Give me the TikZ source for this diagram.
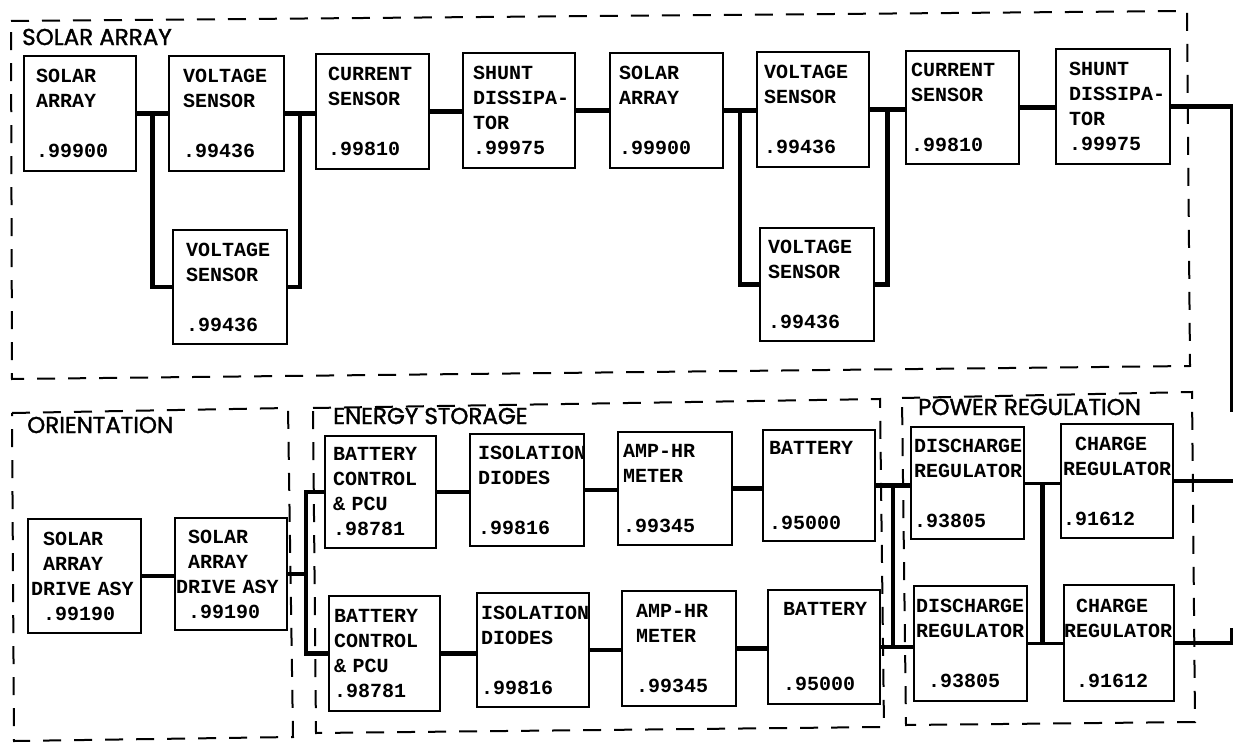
\documentclass[tikz,border=0pt]{standalone}
\usepackage{fontspec}
\newfontfamily\boxfont{Liberation Mono}
\newfontfamily\grpfont{Poppins}[FakeBold=1.5]
\usetikzlibrary{calc}
\begin{document}
\begin{tikzpicture}[x=1pt,y=-1pt,
  blk/.style n args={4}{draw, line width=2pt, anchor=north west,
    minimum width=#1pt, minimum height=#2pt, text width=#3pt,
    inner xsep=#4pt, inner ysep=0pt, align=left,
    font=\boxfont\bfseries\fontsize{20}{25}\selectfont},
  conn/.style={line width=4.5pt},
  thinconn/.style={line width=3pt},
  frame/.style={dash pattern=on 18pt off 13pt, line width=2pt},
  grp/.style={font=\grpfont\fontsize{23}{26}\selectfont, inner sep=0pt, anchor=west}]
\path[use as bounding box, fill=white] (0,0) rectangle (1233,743);

% frames
\draw[frame] (11,21) -- (1187,11) -- (1190,366) -- (12,379) -- cycle;
\draw[frame] (12,413) -- (288,408) -- (293,737) -- (14,741) -- cycle;
\draw[frame] (313,408) -- (880,399) -- (884,727) -- (316,733) -- cycle;
\draw[frame] (902,398) -- (1192,392) -- (1195,722) -- (906,725) -- cycle;

% labels
\node[grp] (lsa) at (22,37) {SOLAR ARRAY};
\node[grp] (lor) at (27,425) {ORIENTATION};
\node[grp] (les) at (333,416) {ENERGY STORAGE};
\node[grp] (lpr) at (918,407) {POWER REGULATION};

% top row
\node[blk={112}{115}{88}{12}] (sa1) at (23,55) {SOLAR\\ARRAY\\\mbox{}\\.99900};
\node[blk={115}{115}{87}{14}] (vs1) at (168,55) {VOLTAGE\\SENSOR\\\mbox{}\\.99436};
\node[blk={114}{114}{88}{13}] (vs2) at (172,229) {VOLTAGE\\SENSOR\\\mbox{}\\.99436};
\node[blk={113}{115}{89}{12}] (cs1) at (315,53) {CURRENT\\SENSOR\\\mbox{}\\.99810};
\node[blk={112}{115}{92}{10}] (sh1) at (462,52) {SHUNT\\\mbox{DISSIPA-}\\TOR\\.99975};
\node[blk={113}{115}{95}{9}] (sa2) at (609,52) {SOLAR\\ARRAY\\\mbox{}\\.99900};
\node[blk={112}{115}{98}{7}] (vs3) at (756,51) {VOLTAGE\\SENSOR\\\mbox{}\\.99436};
\node[blk={114}{113}{98}{8}] (vs4) at (759,227) {VOLTAGE\\SENSOR\\\mbox{}\\.99436};
\node[blk={113}{113}{103}{5}] (cs2) at (905,50) {CURRENT\\SENSOR\\\mbox{}\\.99810};
\node[blk={114}{115}{88}{13}] (sh2) at (1055,48) {SHUNT\\\mbox{DISSIPA-}\\TOR\\.99975};

% bottom
\node[blk={113}{114}{107}{3}] (sada1) at (27,518) {\hphantom{D}SOLAR\\\hphantom{D}ARRAY\\DRIVE~ASY\\\hphantom{D}.99190};
\node[blk={112}{112}{110}{1}] (sada2) at (174,517) {\hphantom{D}SOLAR\\\hphantom{D}ARRAY\\DRIVE~ASY\\\hphantom{D}.99190};
\node[blk={111}{112}{95}{8}] (bc1) at (324,435) {BATTERY\\CONTROL\\\&~PCU\\.98781};
\node[blk={111}{115}{101}{5}] (bc2) at (328,595) {BATTERY\\CONTROL\\\&~PCU\\.98781};
\node[blk={114}{112}{98}{8}] (id1) at (469,433) {ISOLATION\\DIODES\\\mbox{}\\.99816};
\node[blk={112}{114}{104}{4}] (id2) at (476,592) {ISOLATION\\DIODES\\\mbox{}\\.99816};
\node[blk={114}{113}{104}{5}] (am1) at (617,431) {\mbox{AMP-HR}\\METER\\\mbox{}\\.99345};
\node[blk={114}{115}{86}{14}] (am2) at (621,590) {\mbox{AMP-HR}\\METER\\\mbox{}\\.99345};
\node[blk={112}{111}{100}{6}] (bt1) at (762,429) {BATTERY\\\mbox{}\\\mbox{}\\.95000};
\node[blk={112}{114}{82}{15}] (bt2) at (767,589) {BATTERY\\\mbox{}\\\mbox{}\\.95000};
\node[blk={113}{112}{107}{3}] (dr1) at (910,426) {DISCHARGE\\REGULATOR\\\mbox{}\\.93805};
\node[blk={113}{115}{109}{2}] (dr2) at (913,585) {DISCHARGE\\REGULATOR\\\mbox{}\\\hphantom{D}.93805};
\node[blk={112}{114}{108}{2}] (cr1) at (1060,423) {\hphantom{R}CHARGE\\REGULATOR\\\mbox{}\\.91612};
\node[blk={110}{116}{110}{0}] (cr2) at (1063,584) {\hphantom{R}CHARGE\\REGULATOR\\\mbox{}\\\hphantom{R}.91612};

% top connectors
\coordinate (j1) at ($(sa1.east)!0.5!(vs1.west)$);
\draw[conn] (sa1.east) -- (sa1.east -| vs1.west);
\draw[conn] (j1) |- (vs2.west);
\coordinate (j2) at ($(vs1.east)!0.5!(cs1.west)$);
\draw[conn] (vs1.east) -- (vs1.east -| cs1.west);
\draw[conn] (j2) |- (vs2.east);
\draw[conn] (cs1.east) -- (cs1.east -| sh1.west);
\draw[conn] (sh1.east) -- (sh1.east -| sa2.west);
\coordinate (j3) at ($(sa2.east)!0.5!(vs3.west)$);
\draw[conn] (sa2.east) -- (sa2.east -| vs3.west);
\draw[conn] (j3) |- (vs4.west);
\coordinate (j4) at ($(vs3.east)!0.5!(cs2.west)$);
\draw[conn] (vs3.east) -- (vs3.east -| cs2.west);
\draw[conn] (j4) |- (vs4.east);
\draw[conn] (cs2.east) -- (cs2.east -| sh2.west);
\coordinate (r0) at (1233,0);
\coordinate (r1) at (1231,412);
\draw[conn] (sh2.east) -- (sh2.east -| r0);
\draw[thinconn] (r1 |- sh2.east) -- (r1);

% bottom connectors
\draw[conn] (sada1.east) -- (sada1.east -| sada2.west);
\coordinate (jb) at ($(sada2.east)!0.5!(bc1.west)$);
\draw[conn] (sada2.east) -- (sada2.east -| jb);
\draw[conn] (bc1.west) -| (jb |- bc2.west) -- (bc2.west);
\draw[conn] (bc1.east) -- (bc1.east -| id1.west);
\draw[conn] (id1.east) -- (id1.east -| am1.west);
\draw[conn] (am1.east) -- (am1.east -| bt1.west);
\draw[conn] (bc2.east) -- (bc2.east -| id2.west);
\draw[conn] (id2.east) -- (id2.east -| am2.west);
\draw[conn] (am2.east) -- (am2.east -| bt2.west);
\coordinate (jp) at ($(bt1.east)!0.5!(dr1.west)$);
\draw[conn] (bt1.east) -- (bt1.east -| dr1.west);
\draw[conn] (bt2.east) -- (bt2.east -| dr2.west);
\draw[conn] (jp |- bt1.east) -- (jp |- bt2.east);
\coordinate (jq) at ($(dr1.east)!0.5!(cr1.west)$);
\draw[thinconn] (dr1.east) -- (dr1.east -| cr1.west);
\draw[thinconn] (dr2.east) -- (dr2.east -| cr2.west);
\draw[conn] (jq |- dr1.east) -- (jq |- dr2.east);
\draw[conn] (cr1.east) -- (cr1.east -| r0);
\draw[conn] (cr2.east) -- (cr2.east -| r0);
\coordinate (r3) at (1231,628);
\draw[thinconn] (r3) -- (r3 |- cr2.east);
\end{tikzpicture}
\end{document}
